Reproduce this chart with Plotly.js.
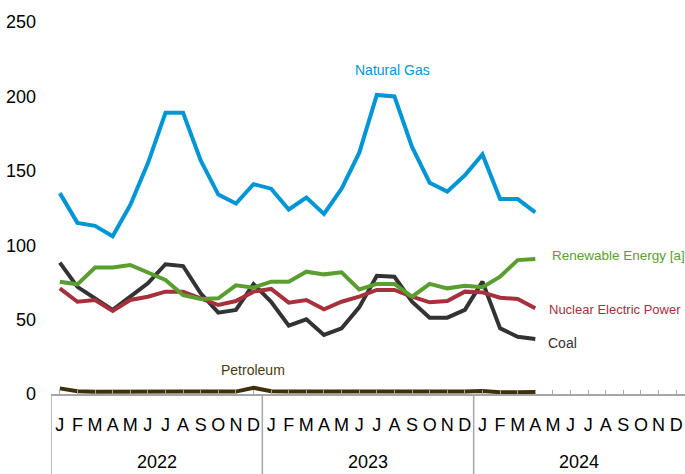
<!DOCTYPE html>
<html>
<head>
<meta charset="utf-8">
<script src="https://cdn.plot.ly/plotly-3.0.1.min.js"></script>
<style>html,body{margin:0;padding:0;background:#fff;}#chart{width:685px;height:474px;}</style>
</head>
<body>
<div id="chart"></div>
<script>
// Month labels (36 slots: Jan 2022 - Dec 2024)
const monthLetters = ["J","F","M","A","M","J","J","A","S","O","N","D",
                      "J","F","M","A","M","J","J","A","S","O","N","D",
                      "J","F","M","A","M","J","J","A","S","O","N","D"];
const years = ["2022","2023","2024"];

// Monthly values, Jan 2022 - Apr 2024 (28 months)
const naturalGas = [135,115,113,106,127,155,189,189,157,134,128,141,
                    138,124,132,121,138,162,201,200,166,142,136,147,
                    161,131,131,122];
const renewable  = [75.5,73.7,85,85,86.7,82,76.6,66.5,63.8,64.3,73,71.5,
                    75.5,75.5,82.2,80.4,81.8,70.3,74,74,65.4,74,71,72.8,
                    71.7,78.8,90,90.7];
const nuclear    = [71,62,63.2,55.8,63.2,65.4,68.8,68.8,64.3,59.8,62.5,68.8,
                    70.6,61.4,63.2,56.9,62,65.4,69.9,69.9,65.4,61.6,62.5,68.8,
                    68.3,64.7,63.8,57.6];
const coal       = [88.3,72,64.3,56.5,65.4,74.4,87.2,86,67.7,54.7,56.5,73.9,
                    62,45.9,50.2,39.7,44.1,58.2,79.5,78.8,62,51.3,51.3,56.5,
                    75.5,44.1,38.5,37];
const petroleum  = [3.8,1.8,1.5,1.4,1.5,1.6,1.6,1.6,1.7,1.7,1.6,4.2,
                    1.8,1.6,1.5,1.4,1.4,1.5,1.7,1.7,1.6,1.5,1.5,1.6,
                    2.0,1.2,1.2,1.3];

const idx = naturalGas.map((_, i) => i);
const allIdx = monthLetters.map((_, i) => i);

function line(y, color, w) {
  return {x: idx, y: y, type: 'scatter', mode: 'lines',
          line: {color: color, width: w || 4}, hoverinfo: 'skip'};
}

const traces = [
  line(petroleum, '#3e3008'),
  line(coal, '#333333'),
  line(nuclear, '#a6303c'),
  line(renewable, '#5a9e2f'),
  line(naturalGas, '#0096d6')
];

const font = 'Arial, "Liberation Sans", sans-serif';

const shapes = [-0.5, 11.5, 23.5].map(b => ({
  type: 'line', xref: 'x', yref: 'paper', x0: b, x1: b, y0: 0, y1: -0.22,
  line: {color: '#a6a6a6', width: 1.5}
}));

const annotations = [
  {text: 'Natural Gas', x: 18.9, y: 217.7, xanchor: 'center', color: '#0096d6', size: 14},
  {text: 'Renewable Energy [a]', x: 27.86, y: 93.4, xanchor: 'left', color: '#5a9e2f', size: 13.5},
  {text: 'Nuclear Electric Power', x: 27.66, y: 56.5, xanchor: 'left', color: '#a6303c', size: 13},
  {text: 'Coal', x: 27.6, y: 34.3, xanchor: 'left', color: '#333333', size: 14},
  {text: 'Petroleum', x: 10.96, y: 16.1, xanchor: 'center', color: '#4a3b0f', size: 14}
].map(a => ({
  text: a.text, x: a.x, y: a.y, xref: 'x', yref: 'y', xanchor: a.xanchor,
  yanchor: 'middle', showarrow: false, font: {family: font, size: a.size, color: a.color}
}));

years.forEach((yr, i) => {
  annotations.push({
    text: yr, x: i * 12 + 5.5, y: -0.183, xref: 'x', yref: 'paper',
    xanchor: 'center', yanchor: 'middle', showarrow: false,
    font: {family: font, size: 18, color: '#000'}
  });
});

const layout = {
  width: 685, height: 474,
  margin: {l: 51, r: 0, t: 22, b: 80},
  paper_bgcolor: '#fff', plot_bgcolor: '#fff',
  showlegend: false,
  xaxis: {
    range: [-0.5, 35.5], tickmode: 'array', tickvals: allIdx, ticktext: monthLetters,
    ticks: 'inside', ticklen: 4, tickcolor: '#a6a6a6', tickwidth: 1,
    showline: true, linecolor: '#a6a6a6', linewidth: 1.5,
    showgrid: false, zeroline: false, automargin: false, fixedrange: true,
    tickfont: {family: font, size: 18, color: '#000'}, ticklabelstandoff: 14
  },
  yaxis: {
    range: [0, 250], tickvals: [0, 50, 100, 150, 200, 250],
    ticks: '', showline: false, showgrid: false, zeroline: false,
    automargin: false, fixedrange: true,
    tickfont: {family: font, size: 18, color: '#000'}, ticklabelstandoff: 14
  },
  shapes: shapes,
  annotations: annotations
};

Plotly.newPlot('chart', traces, layout, {displayModeBar: false, staticPlot: true});
</script>
</body>
</html>
